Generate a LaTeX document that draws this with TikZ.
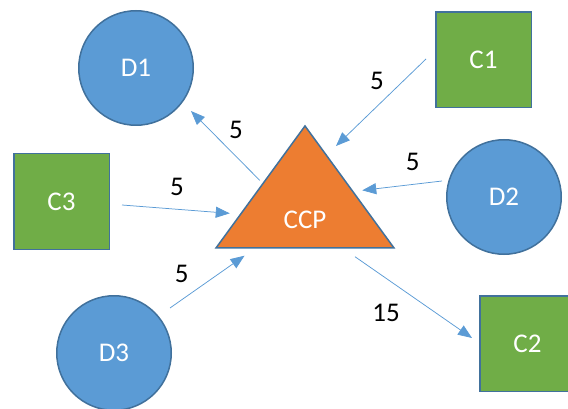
\documentclass[tikz,border=0pt]{standalone}
\usepackage{fontspec}
\setmainfont{Carlito}
\usepackage{xcolor}
\usetikzlibrary{shapes.geometric}
\usetikzlibrary{arrows.meta}
\definecolor{dnodeblue}{HTML}{5B9BD5}
\definecolor{cnodegreen}{HTML}{70AD47}
\definecolor{ccporange}{HTML}{ED7D31}
\definecolor{outlineblue}{HTML}{41719C}
\tikzset{
bluecirclev1/.style={circle, draw=outlineblue,fill=dnodeblue,line width=1.5pt, inner sep=0pt, minimum size= 114.5pt, text=white, font=\fontsize{27}{32}\selectfont},
greensquarev1/.style={rectangle, draw=outlineblue,fill=cnodegreen,line width=1.5pt, inner sep=0pt, minimum size= 95.5pt, text=white, font=\fontsize{27}{32}\selectfont},
orangetrianglev1/.style={isosceles triangle, shape border rotate=90, isosceles triangle stretches, draw=outlineblue,fill=ccporange,line width=1.5pt, inner sep=0pt, minimum width= 178pt, minimum height = 122pt},
whitetextv1/.style={text=white, inner sep=0pt, font=\fontsize{27}{32}\selectfont},
flowarrowv1/.style={draw=dnodeblue, line width=0.75pt, -{Triangle[length=14pt,width=11pt]}},
weightv1/.style={text=black, inner sep=0pt, font=\fontsize{27}{32}\selectfont},
}
\begin{document}
\begin{tikzpicture}[x=1pt,y=-1pt]
    \useasboundingbox (0,0) rectangle (568,409);
    \node[orangetrianglev1, anchor=apex] at (305,124) (ccp) {};
    \node[whitetextv1] at ([shift={(0,-29)}]ccp.lower side) (ccptext) {CCP};
    \node[bluecirclev1] at (136,68) (D1) {D1};
    \node[bluecirclev1] at (504,197) (D2) {D2};
    \node[bluecirclev1] at (114,353) (D3) {D3};
    \node[greensquarev1] at (483.5,60) (C1) {C1};
    \node[greensquarev1] at (527.5,343.5) (C2) {C2};
    \node[greensquarev1] at (61.5,201.5) (C3) {C3};
    % weights on the flows
    \draw[flowarrowv1] ([shift={(0,-6)}]ccp.left side) to node[weightv1, pos=.5, shift={(10.5,-16)}]{5} ([shift={(55,43)}]D1.center);
    \draw[flowarrowv1] ([shift={(-9,-1)}]C1.west) to node[weightv1, pos=.5, shift={(-4,-22)}]{5} ([shift={(31,22)}]ccp.apex);
    \draw[flowarrowv1] ([shift={(-4,-16)}]D2.west) to node[weightv1, pos=.5, shift={(10.5,-24)}]{5} ([shift={(12,4)}]ccp.right side);
    \draw[flowarrowv1] ([shift={(12,3.5)}]C3.east) to node[weightv1, pos=.5, shift={(1,-22)}]{5} ([shift={(-30,27)}]ccp.left side);
    \draw[flowarrowv1] ([shift={(56,-45)}]D3.center) to node[weightv1, pos=.5, shift={(-25.5,-8)}]{5} ([shift={(30,7)}]ccp.left corner);
    \draw[flowarrowv1] ([shift={(50,8)}]ccp.lower side) to node[weightv1, pos=.5, shift={(-27.5,15.5)}]{15} ([shift={(-7,-5.5)}]C2.west);
\end{tikzpicture}
\end{document}
